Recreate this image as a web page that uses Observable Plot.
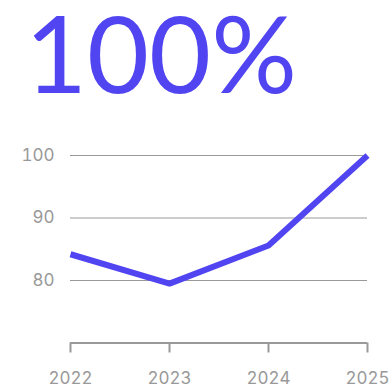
<!DOCTYPE html>
<html>
<head>
<meta charset="utf-8">
<script src="https://cdn.jsdelivr.net/npm/d3@7"></script>
<script src="https://cdn.jsdelivr.net/npm/@observablehq/plot@0.6"></script>
<style>
  html, body { margin: 0; padding: 0; background: #fff; }
  #wrap { width: 389px; height: 390px; position: relative; overflow: hidden; }
  #title { position: absolute; left: 25px; top: -1px; font-family: Lato, sans-serif; font-weight: 400; font-size: 107px; color: #5145f2; line-height: 106px; white-space: nowrap; }
  #chart { position: absolute; left: 0; top: 125px; }
</style>
</head>
<body>
<div id="wrap">
  <div id="title">100%</div>
  <div id="chart"></div>
</div>
<script>
const years = [2022, 2023, 2024, 2025];
const values = [84.2, 79.5, 85.6, 100];
const yTicks = [80, 90, 100];
const titleText = "100%";

document.getElementById("title").textContent = titleText;
const data = years.map((y, i) => ({year: y, value: values[i]}));

const plot = Plot.plot({
  width: 389,
  height: 265,
  marginLeft: 70,
  marginRight: 22,
  marginTop: 30,
  marginBottom: 47.5,
  style: {fontFamily: "Inter, sans-serif", fontSize: "17px", color: "#999", overflow: "visible"},
  x: {domain: [2022, 2025]},
  y: {domain: [70, 100]},
  marks: [
    Plot.gridY(yTicks, {stroke: "#999", strokeOpacity: 1, strokeWidth: 1}),
    Plot.axisY(yTicks, {tickSize: 0, tickPadding: 16, fill: "#999", label: null}),
    Plot.ruleY([70], {stroke: "#999", strokeWidth: 2}),
    Plot.axisX(years, {tickSize: 10, tickPadding: 19, tickFormat: d => String(d), stroke: "#999", strokeWidth: 2, fill: "#999", label: null}),
    Plot.line(data, {x: "year", y: "value", stroke: "#5145f2", strokeWidth: 6, strokeLinejoin: "miter", strokeLinecap: "butt"})
  ]
});
document.getElementById("chart").appendChild(plot);
</script>
</body>
</html>
